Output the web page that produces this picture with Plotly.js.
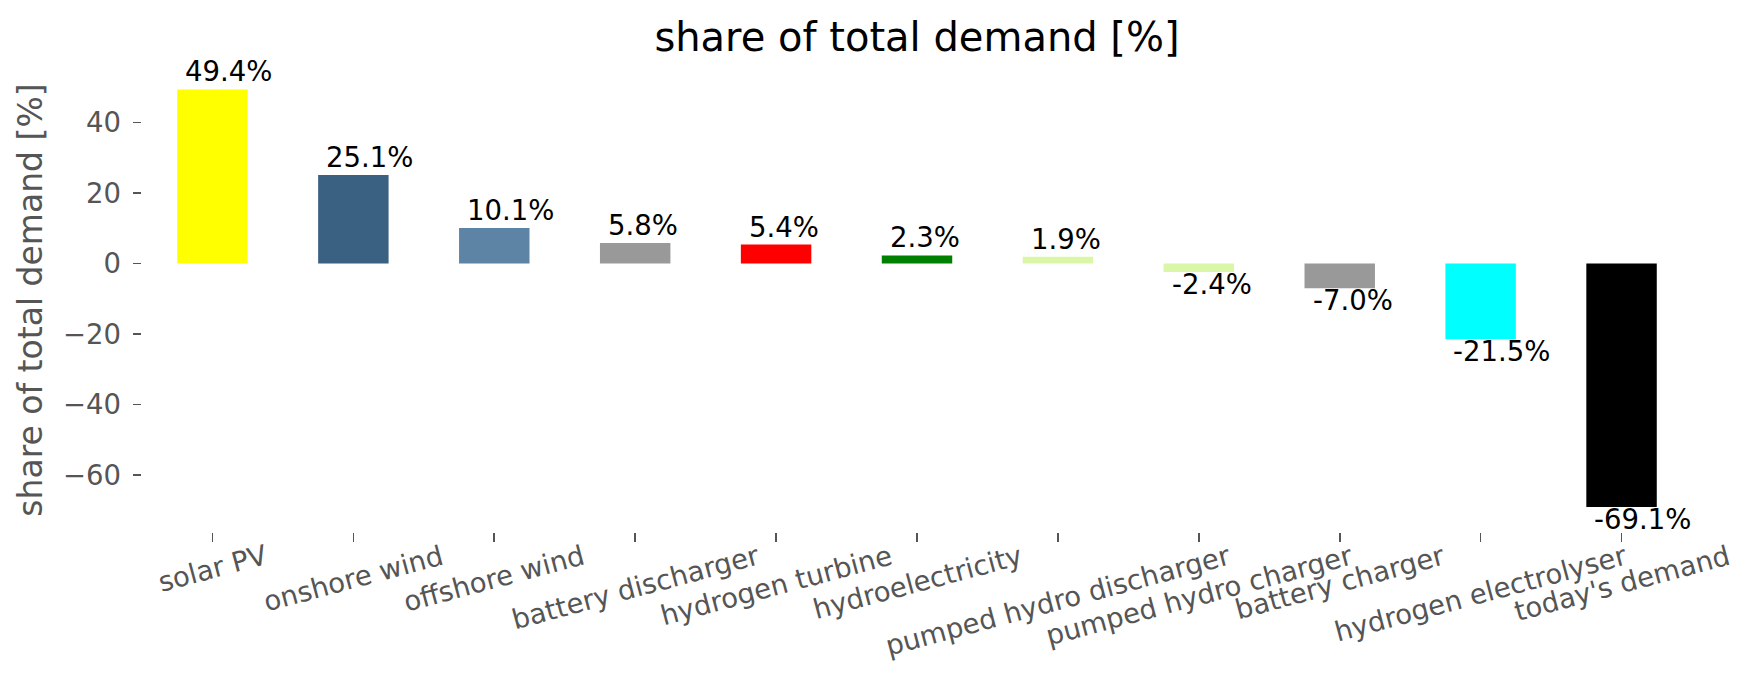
<!DOCTYPE html>
<html>
<head>
<meta charset="utf-8">
<script src="https://cdn.plot.ly/plotly-3.0.1.min.js"></script>
<style>html,body{margin:0;padding:0;background:#fff;}#chart{width:1753px;height:689px;}</style>
</head>
<body>
<div id="chart"></div>
<script>
const categories = ["solar PV","onshore wind","offshore wind","battery discharger","hydrogen turbine","hydroelectricity","pumped hydro discharger","pumped hydro charger","battery charger","hydrogen electrolyser","today's demand"];
const shares = [49.4, 25.1, 10.1, 5.8, 5.4, 2.3, 1.9, -2.4, -7.0, -21.5, -69.1];
const barColors = ["#ffff00","#3b6182","#5d84a5","#999999","#ff0000","#008000","#d9f7a6","#d9f7a6","#999999","#00ffff","#000000"];
const yTicks = [-60, -40, -20, 0, 20, 40];
const titleText = "share of total demand [%]";
const yTitleText = "share of total demand [%]";

const FONT = "DejaVu Sans";
const GREY = "#555555";

const trace = {
  type: "bar",
  x: categories,
  y: shares,
  width: 0.5,
  marker: {color: barColors, line: {width: 0}},
  hoverinfo: "x+y",
  showlegend: false
};

const annotations = [];
shares.forEach((v, i) => {
  annotations.push({
    x: i - 0.25, y: v, xref: "x", yref: "y",
    text: v.toFixed(1) + "%",
    showarrow: false,
    xanchor: "left",
    yanchor: v >= 0 ? "bottom" : "top",
    xshift: 6,
    yshift: v >= 0 ? 0 : 6,
    font: {family: FONT, size: 27.5, color: "#000000"}
  });
});
categories.forEach((c, i) => {
  annotations.push({
    x: i, y: 0, xref: "x", yref: "paper",
    text: c,
    showarrow: false,
    textangle: -15,
    xanchor: "center",
    yanchor: "top",
    yshift: -4,
    font: {family: FONT, size: 27.5, color: GREY}
  });
});

const layout = {
  width: 1753, height: 689,
  paper_bgcolor: "#ffffff", plot_bgcolor: "#ffffff",
  margin: {l: 142, r: 61, t: 68, b: 157, pad: 0},
  title: {
    text: titleText,
    font: {family: FONT, size: 40, color: "#000000"},
    x: 0.5, xref: "paper", xanchor: "center",
    y: 1, yref: "paper", yanchor: "bottom",
    pad: {b: 17}
  },
  xaxis: {
    type: "category",
    range: [-0.5, 10.5],
    showgrid: false, zeroline: false, showline: false,
    ticks: "outside", ticklen: 8.5, tickwidth: 1.6, tickcolor: GREY,
    showticklabels: false
  },
  yaxis: {
    range: [-76.2, 55.5],
    tickvals: yTicks,
    showgrid: false, zeroline: false, showline: false,
    ticks: "outside", ticklen: 8.5, tickwidth: 1.6, tickcolor: GREY,
    ticklabelstandoff: 6,
    tickfont: {family: FONT, size: 27.5, color: GREY},
    title: {text: yTitleText, font: {family: FONT, size: 33, color: GREY}, standoff: 10}
  },
  annotations: annotations
};

Plotly.newPlot("chart", [trace], layout, {displayModeBar: false, staticPlot: true});
</script>
</body>
</html>
